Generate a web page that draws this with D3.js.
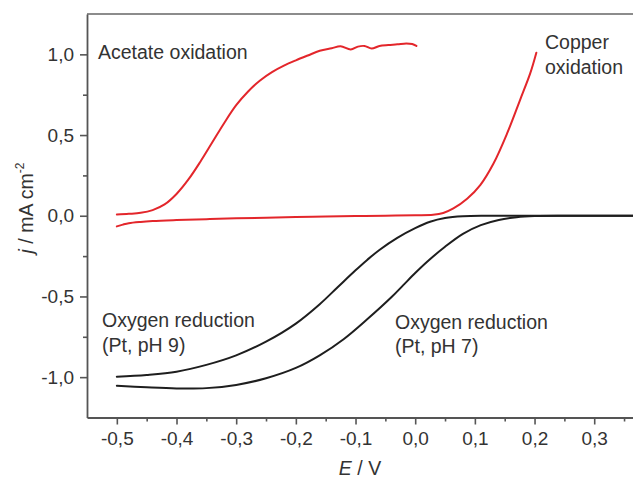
<!DOCTYPE html>
<html><head><meta charset="utf-8">
<script src="https://cdn.jsdelivr.net/npm/d3@7"></script>
<style>
html,body{margin:0;padding:0;background:#fff;}
svg text{font-family:"Liberation Sans",Arial,sans-serif;fill:#333;}
</style></head>
<body><svg id="c" width="633" height="478"></svg>
<script>
// ---- data ----
const acetateE = [-0.50,-0.48,-0.46,-0.44,-0.42,-0.40,-0.38,-0.36,-0.34,-0.32,-0.30,-0.28,-0.26,-0.24,-0.22,-0.20,-0.18,-0.16,-0.14,-0.125,-0.108,-0.096,-0.085,-0.073,-0.06,-0.045,-0.03,-0.015,-0.005,0.002];
const acetateJ = [0.008,0.012,0.018,0.035,0.07,0.135,0.225,0.335,0.455,0.575,0.685,0.77,0.838,0.89,0.93,0.963,0.993,1.022,1.038,1.05,1.03,1.048,1.052,1.036,1.052,1.058,1.062,1.068,1.064,1.052];
const copperE = [-0.50,-0.49,-0.48,-0.46,-0.44,-0.40,-0.35,-0.30,-0.25,-0.20,-0.15,-0.10,-0.05,0.00,0.03,0.047,0.064,0.087,0.109,0.131,0.154,0.176,0.193,0.203];
const copperJ = [-0.066,-0.055,-0.046,-0.038,-0.033,-0.027,-0.021,-0.016,-0.012,-0.008,-0.005,-0.002,0.0,0.003,0.006,0.017,0.045,0.105,0.19,0.322,0.51,0.72,0.885,1.01];
const orrPH9E = [-0.50,-0.45,-0.40,-0.35,-0.30,-0.25,-0.20,-0.16,-0.13,-0.10,-0.08,-0.06,-0.03,0.00,0.025,0.05,0.08,0.12,0.20,0.365];
const orrPH9J = [-0.997,-0.986,-0.966,-0.924,-0.865,-0.780,-0.668,-0.548,-0.443,-0.338,-0.272,-0.212,-0.137,-0.077,-0.037,-0.014,-0.003,0,0,0];
const orrPH7E = [-0.50,-0.45,-0.40,-0.35,-0.30,-0.25,-0.20,-0.16,-0.12,-0.08,-0.04,-0.02,0.00,0.02,0.05,0.08,0.11,0.14,0.17,0.20,0.25,0.30,0.365];
const orrPH7J = [-1.053,-1.063,-1.070,-1.068,-1.048,-1.007,-0.943,-0.865,-0.765,-0.640,-0.505,-0.43,-0.355,-0.285,-0.192,-0.112,-0.058,-0.026,-0.009,-0.002,0,0,0];
const xTicks = [-0.5,-0.4,-0.3,-0.2,-0.1,0.0,0.1,0.2,0.3];
const xMinor = [-0.45,-0.35,-0.25,-0.15,-0.05,0.05,0.15,0.25,0.35];
const yTicks = [-1.0,-0.5,0.0,0.5,1.0];
const yMinor = [-0.75,-0.25,0.25,0.75];

// ---- layout ----
const svg = d3.select("#c");
const L = 87, R = 633, T = 14, B = 417.5;
const x = d3.scaleLinear().domain([-0.55, 0.365]).range([L, R]);
const y = d3.scaleLinear().domain([-1.25, 1.25]).range([B, T]);
const fmt = d => d3.format(".1f")(d).replace("−","-").replace(".", ",");
const axisCol = "#555";

svg.append("line").attr("x1", L).attr("x2", R).attr("y1", T).attr("y2", T)
  .attr("stroke", "#666").attr("stroke-width", 1.6);

function styleAxis(g){
  g.selectAll("path.domain").attr("stroke", axisCol).attr("stroke-width", 1.8);
  g.selectAll(".tick line").attr("stroke", axisCol).attr("stroke-width", 1.6);
  g.selectAll(".tick text").attr("font-size", 19).style("fill", "#333")
    .attr("font-family", "Liberation Sans, Arial, sans-serif");
}

const gx = svg.append("g").attr("transform", `translate(0,${B})`)
  .call(d3.axisBottom(x).tickValues(xTicks).tickFormat(fmt).tickSize(7).tickPadding(7).tickSizeOuter(0));
styleAxis(gx);
const gxm = svg.append("g").attr("transform", `translate(0,${B})`)
  .call(d3.axisBottom(x).tickValues(xMinor).tickFormat("").tickSize(4).tickSizeOuter(0));
gxm.select("path.domain").remove();
styleAxis(gxm);

const gy = svg.append("g").attr("transform", `translate(${L},0)`)
  .call(d3.axisLeft(y).tickValues(yTicks).tickFormat(fmt).tickSize(7).tickPadding(6).tickSizeOuter(0));
styleAxis(gy);
const gym = svg.append("g").attr("transform", `translate(${L},0)`)
  .call(d3.axisLeft(y).tickValues(yMinor).tickFormat("").tickSize(4).tickSizeOuter(0));
gym.select("path.domain").remove();
styleAxis(gym);

const line = d3.line().x(d => x(d[0])).y(d => y(d[1])).curve(d3.curveCatmullRom.alpha(0.5));
function draw(E, J, col){
  svg.append("path").datum(E.map((e,i)=>[e,J[i]]))
    .attr("d", line).attr("fill","none").attr("stroke", col)
    .attr("stroke-width", 2).attr("stroke-linejoin","round").attr("stroke-linecap","round");
}
draw(orrPH9E, orrPH9J, "#1e1e1e");
draw(orrPH7E, orrPH7J, "#1e1e1e");
draw(copperE, copperJ, "#e3262b");
draw(acetateE, acetateJ, "#e3262b");

function label(tx, ty, lines){
  const t = svg.append("text").attr("x", tx).attr("y", ty).attr("font-size", 19.5);
  lines.forEach((s,i)=>t.append("tspan").attr("x", tx).attr("dy", i? 24.5 : 0).text(s));
}
label(98, 59, ["Acetate oxidation"]);
label(545, 49, ["Copper", "oxidation"]);
label(102, 327, ["Oxygen reduction", "(Pt, pH 9)"]);
label(395, 328.5, ["Oxygen reduction", "(Pt, pH 7)"]);

const xt = svg.append("text").attr("x", 360).attr("y", 475).attr("text-anchor","middle").attr("font-size", 19.5);
xt.append("tspan").attr("font-style","italic").text("E");
xt.append("tspan").text(" / V");

const yt = svg.append("text").attr("transform", "translate(33,208) rotate(-90)")
  .attr("text-anchor","middle").attr("font-size", 19.5);
yt.append("tspan").attr("font-style","italic").text("j");
yt.append("tspan").text(" / mA cm");
yt.append("tspan").attr("font-size", 12).attr("dy", -9).text("-2");
</script>
</body></html>
